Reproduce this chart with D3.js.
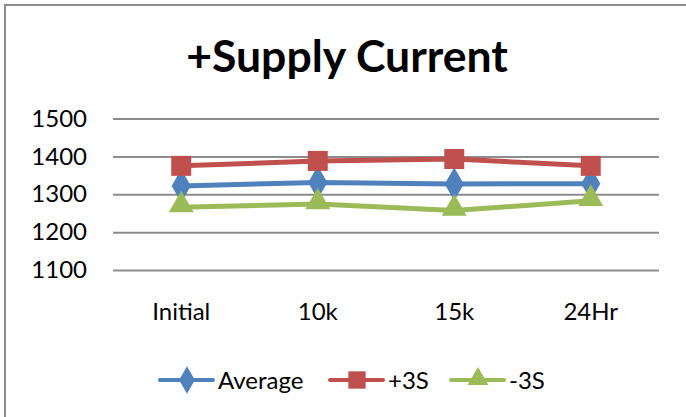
<!DOCTYPE html>
<html><head><meta charset="utf-8">
<script src="https://cdn.jsdelivr.net/npm/d3@7"></script>
<style>body{margin:0;background:#fff}svg{display:block}</style>
</head><body>
<script>
const categories = ["Initial", "10k", "15k", "24Hr"];
const average = [1322, 1331, 1327, 1328];
const plus3S = [1375, 1388, 1393, 1375];
const minus3S = [1266, 1274, 1257, 1283];
const yTicks = [1100, 1200, 1300, 1400, 1500];
const seriesNames = ["Average", "+3S", "-3S"];
const title = "+Supply Current";

const W = 686, H = 417;
const font = "Lato, 'Liberation Sans', sans-serif";
const colors = ["#4F81BD", "#C0504D", "#9BBB59"];
const shapes = [d3.symbolDiamond, d3.symbolSquare, d3.symbolTriangle];
const series = [average, plus3S, minus3S];

const svg = d3.select("body").append("svg").attr("width", W).attr("height", H);
svg.append("rect").attr("width", W).attr("height", H).attr("fill", "#fff");
svg.append("rect").attr("x", 5).attr("y", 5).attr("width", W + 20).attr("height", H + 20)
  .attr("fill", "none").attr("stroke", "#8c8c8c").attr("stroke-width", 2);

const x = d3.scaleBand().domain(categories).range([113, 659]);
const y = d3.scaleLinear().domain([1100, 1500]).range([270, 118.5]);

svg.append("text").attr("x", 347).attr("y", 72).attr("text-anchor", "middle")
  .attr("font-family", font).attr("font-weight", "bold").attr("font-size", 44.5).text(title);

// grid
const yAxis = d3.axisLeft(y).tickValues(yTicks).tickSize(-(659 - 113)).tickPadding(26).tickFormat(d3.format("d"));
const gy = svg.append("g").attr("transform", "translate(113,0)").call(yAxis);
gy.select(".domain").remove();
gy.selectAll(".tick line").attr("stroke", "#8c8c8c").attr("stroke-width", 2);
gy.selectAll(".tick text").attr("font-family", font).attr("font-size", 24).attr("fill", "#000");

const xAxis = d3.axisBottom(x).tickSize(0).tickPadding(33);
const gx = svg.append("g").attr("transform", "translate(0,270)").call(xAxis);
gx.select(".domain").remove();
gx.selectAll(".tick text").attr("font-family", font).attr("font-size", 24).attr("fill", "#000");

const line = d3.line().x((d, i) => x(categories[i]) + x.bandwidth() / 2).y(d => y(d));

series.forEach((s, k) => {
  svg.append("path").datum(s).attr("d", line).attr("fill", "none")
    .attr("stroke", colors[k]).attr("stroke-width", 5).attr("stroke-linejoin", "round");
});
series.forEach((s, k) => {
  const size = k === 0 ? 320 : (k === 1 ? 400 : 270);
  svg.selectAll(null).data(s).enter().append("path")
    .attr("transform", (d, i) => `translate(${x(categories[i]) + x.bandwidth() / 2},${y(d) + (k === 2 ? -2 : 0)})`)
    .attr("d", d3.symbol().type(shapes[k]).size(size))
    .attr("fill", colors[k]);
});

// legend
const legX = [160, 330, 451];
const legY = 380;
seriesNames.forEach((name, k) => {
  const g = svg.append("g").attr("transform", `translate(${legX[k]},${legY})`);
  g.append("line").attr("x1", 0).attr("x2", 53).attr("y1", 0).attr("y2", 0)
    .attr("stroke", colors[k]).attr("stroke-width", 4).attr("stroke-linecap", "round");
  const size = k === 0 ? 220 : (k === 1 ? 300 : 190);
  g.append("path").attr("transform", `translate(27,${k === 2 ? -1 : 0})`)
    .attr("d", d3.symbol().type(shapes[k]).size(size)).attr("fill", colors[k]);
  g.append("text").attr("x", 58).attr("y", 9).attr("font-family", font).attr("font-size", 24)
    .attr("fill", "#000").text(name);
});
</script>
</body></html>
